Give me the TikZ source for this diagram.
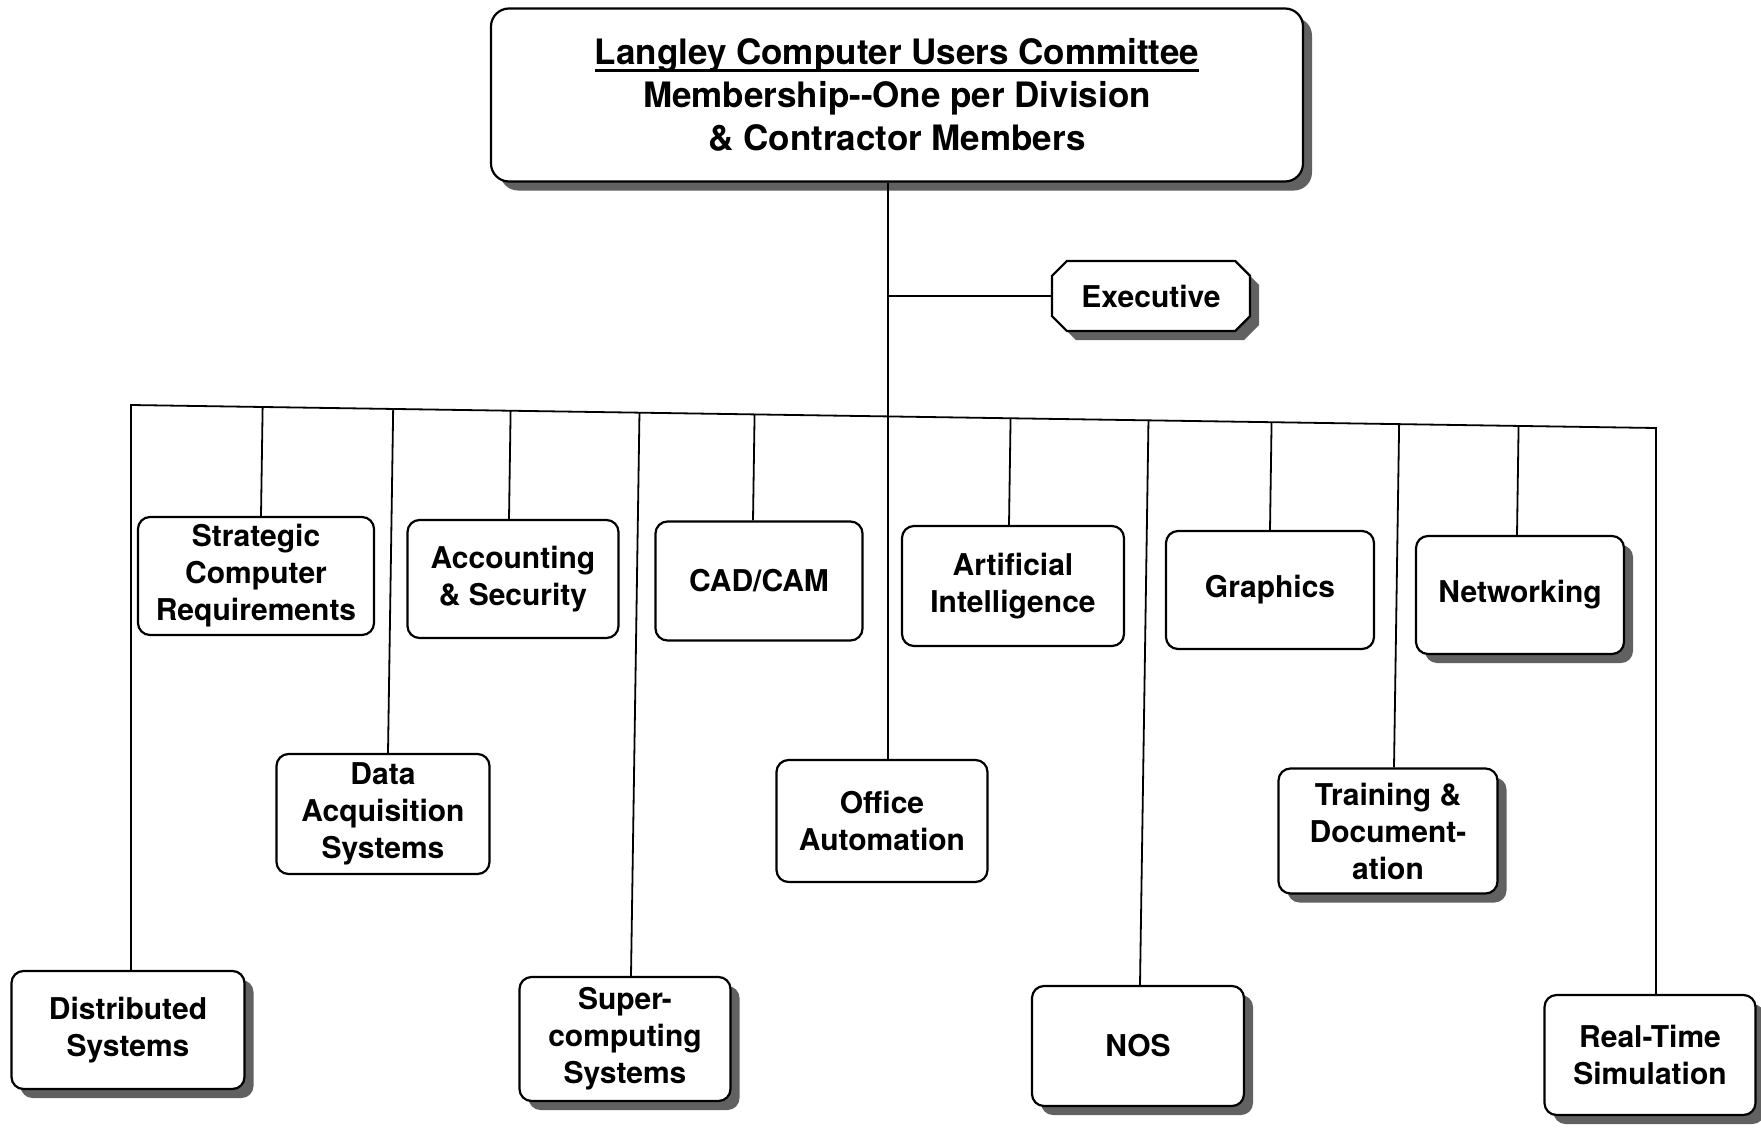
\documentclass[tikz,border=0pt]{standalone}
\usepackage{fontspec}
\setmainfont{TeX Gyre Heros}
\usetikzlibrary{shapes.misc,shadows,calc}
\newcommand\myul[1]{\setbox0\hbox{#1}\rlap{\rule[-7pt]{\wd0}{2.2pt}}\box0}
\begin{document}
\begin{tikzpicture}[x=1pt,y=-1pt,
  box/.style={draw, line width=2.2pt, rounded corners=12pt, fill=white, align=center,
    font=\fontsize{30}{37}\selectfont\bfseries, inner sep=0pt},
  shad/.style={drop shadow={shadow xshift=9pt, shadow yshift=-9pt, fill=black!62, opacity=1}},
  conn/.style={line width=1.8pt}]
\useasboundingbox (0,0) rectangle (1761,1127);
\fill[white] (0,0) rectangle (1761,1127);

% top
\node[box, shad, rounded corners=18pt, minimum width=812pt, minimum height=173pt,
  font=\fontsize{35}{43}\selectfont\bfseries] (top) at (897,95)
  {\myul{Langley Computer Users Committee}\\Membership-{}-One per Division\\\& Contractor Members};

% executive
\node[chamfered rectangle, chamfered rectangle xsep=16pt, draw, line width=2.2pt, fill=white,
  shad, minimum width=198pt, minimum height=70pt, inner sep=0pt,
  font=\fontsize{30}{37}\selectfont\bfseries] (exec) at (1151,296) {Executive};

% row 1
\node[box, minimum width=236pt, minimum height=118pt] (strat) at (256,576) {Strategic\\Computer\\Requirements};
\node[box, minimum width=211pt, minimum height=118pt] (acc) at (513,579) {Accounting\\\& Security};
\node[box, minimum width=207pt, minimum height=119pt] (cad) at (759,581) {CAD/CAM};
\node[box, minimum width=222pt, minimum height=120pt] (ai) at (1013,586) {Artificial\\Intelligence};
\node[box, minimum width=208pt, minimum height=118pt] (gra) at (1270,590) {Graphics};
\node[box, shad, minimum width=208pt, minimum height=118pt] (net) at (1520,595) {Networking};

% row 2
\node[box, minimum width=213pt, minimum height=120pt] (daq) at (383,814) {Data\\Acquisition\\Systems};
\node[box, minimum width=211pt, minimum height=122pt] (off) at (882,821) {Office\\Automation};
\node[box, shad, minimum width=219pt, minimum height=125pt] (trn) at (1388,831) {Training \&\\Document-\\ation};

% row 3
\node[box, shad, minimum width=233pt, minimum height=118pt] (dist) at (128,1030) {Distributed\\Systems};
\node[box, shad, minimum width=211pt, minimum height=124pt] (sup) at (625,1039) {Super-\\computing\\Systems};
\node[box, shad, minimum width=212pt, minimum height=120pt] (nos) at (1138,1046) {NOS};
\node[box, shad, minimum width=211pt, minimum height=120pt] (rt) at (1650,1055) {Real-Time\\Simulation};

\coordinate (busL) at ([xshift=3pt]dist.north |- 0,405);
\coordinate (busR) at ([xshift=6pt]rt.north |- 0,428);

% connectors
\draw[conn] ([xshift=6pt]off.north) -- ([xshift=6pt]off.north |- top.south);
\draw[conn] (exec.west) -- ([xshift=6pt]exec.west -| off.north);
\draw[conn] ([xshift=3pt]dist.north) -- (busL) -- (busR) -- ([xshift=6pt]rt.north);
\foreach \n/\dx in {strat/5,acc/-4,cad/-6,ai/-4,gra/0,net/-3,daq/5,trn/6,sup/6,nos/2}
  \draw[conn] ([xshift=\dx pt]\n.north) -- ($(busL)!([xshift=\dx pt]\n.north)!(busR)$);
\end{tikzpicture}
\end{document}
